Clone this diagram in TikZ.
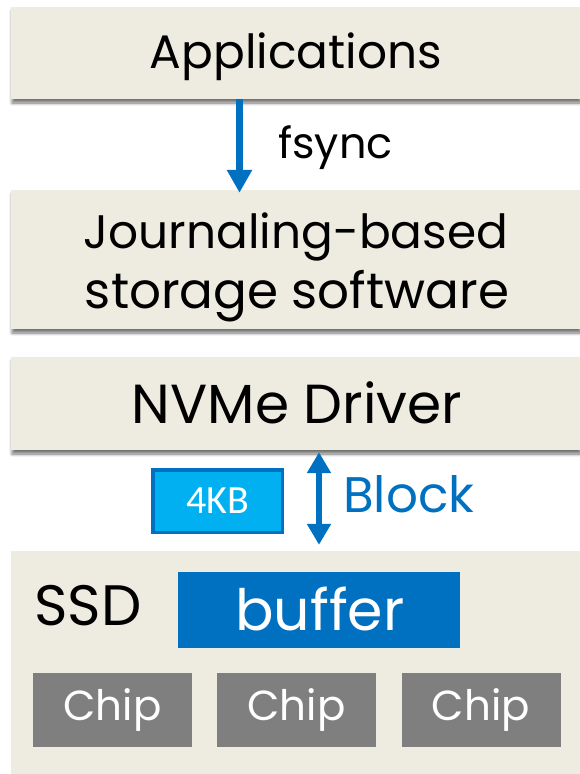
\documentclass[tikz,border=0pt]{standalone}
\usepackage{fontspec}
\setmainfont{Poppins}
\newfontfamily\labelfont{Carlito}
\usetikzlibrary{arrows.meta,shadows.blur}

\definecolor{layerbg}{HTML}{EEECE1}
\definecolor{darkblue}{HTML}{0070C0}
\definecolor{lightblue}{HTML}{00B0F0}
\definecolor{chipgray}{HTML}{7F7F7F}

\newcommand{\sz}[1]{\fontsize{#1}{#1}\selectfont}

\tikzset{
  layer/.style={rectangle, fill=layerbg, inner sep=0pt, minimum width=569pt,
    text=black,
    blur shadow={shadow xshift=1pt, shadow yshift=-4pt, shadow blur radius=3pt,
      shadow blur steps=10, shadow opacity=55}},
  plainlayer/.style={rectangle, fill=layerbg, inner sep=0pt, minimum width=569pt},
  bigtext/.style={inner sep=0pt},
  chipbox/.style={rectangle, fill=chipgray, text=white, inner sep=0pt,
    minimum width=159pt, minimum height=74pt, font=\sz{42}},
  bufbox/.style={rectangle, fill=darkblue, text=white, inner sep=0pt,
    minimum width=282pt, minimum height=76pt},
  kbbox/.style={rectangle, fill=lightblue, draw=darkblue, line width=3.5pt,
    text=white, inner sep=0pt, minimum width=129.5pt, minimum height=62.5pt,
    font=\labelfont\sz{40}},
  flow/.style={draw=darkblue, line width=7pt,
    -{Triangle[width=24pt,length=23pt]}},
  dflow/.style={draw=darkblue, line width=6pt,
    {Triangle[width=23pt,length=21pt]}-{Triangle[width=23pt,length=21pt]}},
}

\begin{document}
\begin{tikzpicture}[x=1pt,y=-1pt]
  \useasboundingbox (0,0) rectangle (580,774);

  % software stack
  \node[layer, minimum height=92pt] (app) at (295.5,53) {};
  \node[bigtext, anchor=base, font=\sz{47}] (apptext) at (296,68) {Applications};
  \node[layer, minimum height=139pt] (jour) at (295.5,259.5) {};
  \node[bigtext, anchor=base, font=\sz{47}] (jour1) at (296,248) {Journaling-based};
  \node[bigtext, anchor=base, font=\sz{50}] (jour2) at (297,308) {storage software};
  \node[layer, minimum height=93pt] (nvme) at (295.5,403.5) {};
  \node[bigtext, anchor=base, font=\sz{55}] (nvmetext) at (297,423) {NVMe Driver};

  % device
  \node[plainlayer, minimum height=230pt] (ssd) at (295.5,666) {};
  \node[bigtext, anchor=base west, font=\sz{57}] (ssdlabel) at (34,625) {SSD};
  \node[bufbox] (buf) at (319,610) {};
  \node[bigtext, anchor=base, text=white, font=\sz{57}] (buftext) at (320,630) {buffer};
  \node[chipbox] (chip1) at (112.5,710) {Chip};
  \node[chipbox] (chip2) at (296.5,710) {Chip};
  \node[chipbox] (chip3) at (481,710) {Chip};

  % fsync call
  \coordinate (ax1) at (239.5,0);
  \draw[flow, shorten >=-3pt] (app.south -| ax1) -- (jour.north -| ax1);
  \node[bigtext, anchor=base west, font=\sz{43}] (fsync) at (278,158) {fsync};

  % block transfer between driver and device
  \coordinate (ax2) at (319,0);
  \draw[dflow, shorten <=2pt, shorten >=6pt] (nvme.south -| ax2) -- (ssd.north -| ax2);
  \node[kbbox] (kb) at (217.5,501) {4KB};
  \node[bigtext, anchor=base west, text=darkblue, font=\sz{50}] (block) at (343,512) {Block};
\end{tikzpicture}
\end{document}
